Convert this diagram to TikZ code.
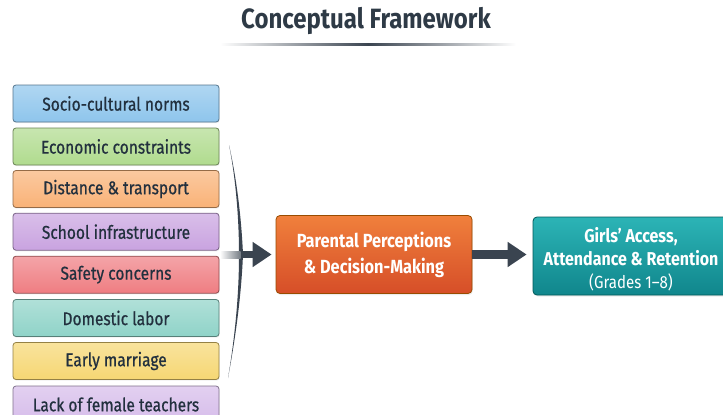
\documentclass[tikz,border=0pt]{standalone}
\usepackage{fontspec}
\setmainfont{Fira Sans}[FakeStretch=0.86]
\newfontfamily\boxfont{Fira Sans}[FakeStretch=0.84, FakeBold=0.7]
\usetikzlibrary{arrows.meta,shadows}

\definecolor{ink}{HTML}{22303E}
\definecolor{titleink}{HTML}{2E3A46}
\definecolor{arrowgray}{HTML}{3A4450}

\tikzset{
  factor/.style={draw=#1!60!black, line width=0.8pt, rounded corners=3pt,
    top color=#1!70!white, bottom color=#1,
    minimum width=206pt, minimum height=37pt, inner sep=0pt,
    text=ink, font=\boxfont\fontsize{18.5}{20}\selectfont,
    drop shadow={opacity=0.12, shadow xshift=0.6pt, shadow yshift=-1.2pt}},
  bigbox/.style={line width=0.8pt, rounded corners=4pt,
    minimum width=196pt, minimum height=78pt, inner sep=0pt,
    text=white, align=center,
    drop shadow={opacity=0.15, shadow xshift=0.8pt, shadow yshift=-1.5pt}},
  flow/.style={arrowgray, line width=8.5pt,
    -{Triangle[length=19pt,width=24pt]}},
}

\definecolor{cblue}{HTML}{8EC5EC}
\definecolor{cgreen}{HTML}{B0DB8E}
\definecolor{corange}{HTML}{F9B277}
\definecolor{cpurple}{HTML}{C9A3E0}
\definecolor{cred}{HTML}{EF7D82}
\definecolor{cteal}{HTML}{8FD3C8}
\definecolor{cyellow}{HTML}{F6D773}
\definecolor{clav}{HTML}{D6BCEA}

\begin{document}
\begin{tikzpicture}[x=1pt,y=-1pt]
\useasboundingbox (0,0) rectangle (723,415);
\fill[white] (0,0) rectangle (723,415);

% title and its fading rule
\node (title) at (366,21) {\bfseries\color{titleink}\fontsize{27.9}{32}\selectfont Conceptual Framework};
\shade[left color=white, right color=arrowgray] (220,43.2) rectangle (368,45);
\shade[left color=arrowgray, right color=white] (368,43.2) rectangle (516,45);

% factor boxes
\node[factor=cblue]   (f1) at (116,103.5) {Socio-cultural norms};
\node[factor=cgreen]  (f2) at (116,146.5) {Economic constraints};
\node[factor=corange] (f3) at (116,189)   {Distance \& transport};
\node[factor=cpurple] (f4) at (116,231.7) {School infrastructure};
\node[factor=cred]    (f5) at (116,274.7) {Safety concerns};
\node[factor=cteal]   (f6) at (116,318)   {Domestic labor};
\node[factor=cyellow] (f7) at (116,361)   {Early marriage};
\node[factor=clav]    (f8) at (116,404.5) {Lack of female teachers};

% decision and outcome boxes
\node[bigbox, draw=orange!60!black, top color={rgb,255:red,240;green,128;blue,60},
      bottom color={rgb,255:red,214;green,78;blue,40},
      font=\bfseries\fontsize{19}{26}\selectfont]
      (pp) at (374,254.5) {Parental Perceptions\\\& Decision-Making};
\node[bigbox, draw=teal!70!black, top color={rgb,255:red,44;green,180;blue,182},
      bottom color={rgb,255:red,16;green,134;blue,140}]
      (out) at (631,256) {};
\node[text=white, align=center, font=\bfseries\fontsize{18.6}{23}\selectfont]
      (outtext) at ([yshift=-3pt]out.center) {Girls' Access,\\Attendance \& Retention\\
      {\mdseries\fontsize{17.5}{20}\selectfont (Grades 1--8)}};

% converging bracket
\coordinate (fan) at (240.5,254.5);
\coordinate (ftop) at (229,145);
\coordinate (fbot) at (228,378);
\fill[arrowgray] (ftop) .. controls (236,180) and (239,220) .. (239,254.5)
  -- (243,254.5) .. controls (241.5,220) and (237,180) .. (ftop) -- cycle;
\fill[arrowgray] (fbot) .. controls (236,330) and (239,290) .. (239,254.5)
  -- (243,254.5) .. controls (241.5,290) and (237,330) .. (fbot) -- cycle;

% fading tail and arrow into the decision box
\shade[left color=white, right color=arrowgray!70] (220,251) rectangle (fan|-0,258);
\draw[flow, line width=7pt, shorten >=4pt] (fan) -- (pp.west);

% arrow to the outcome
\draw[flow, shorten >=6pt] (pp.east) -- (out.west |- pp.east);
\end{tikzpicture}
\end{document}
